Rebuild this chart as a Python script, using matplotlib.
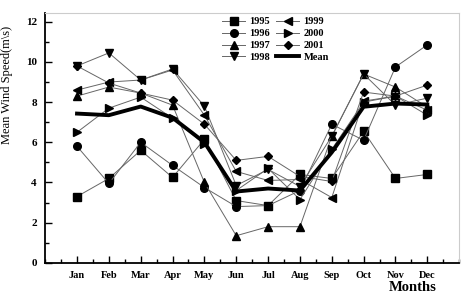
import matplotlib
matplotlib.use('Agg')
import matplotlib.pyplot as plt
from matplotlib.ticker import MultipleLocator

months = ['Jan', 'Feb', 'Mar', 'Apr', 'May', 'Jun',
          'Jul', 'Aug', 'Sep', 'Oct', 'Nov', 'Dec']

y1995 = [3.3, 4.2, 5.6, 4.25, 6.15, 3.1, 2.85, 4.4, 4.2, 6.55, 4.2, 4.4]
y1996 = [5.8, 3.95, 6.0, 4.85, 3.75, 2.8, 2.85, 3.6, 6.9, 6.1, 9.75, 10.85]
y1997 = [8.3, 8.75, 8.45, 7.85, 4.0, 1.35, 1.8, 1.8, 6.3, 9.4, 8.75, 7.75]
y1998 = [9.8, 10.45, 9.1, 9.65, 7.8, 3.85, 4.65, 3.8, 6.3, 9.4, 7.85, 8.2]
y1999 = [8.6, 9.0, 9.1, 9.6, 7.35, 4.55, 4.1, 4.15, 3.25, 8.05, 8.3, 7.6]
y2000 = [6.5, 7.7, 8.25, 7.2, 5.9, 3.6, 4.7, 3.15, 5.65, 8.0, 8.3, 7.35]
y2001 = [9.8, 8.95, 8.45, 8.1, 6.9, 5.1, 5.3, 4.3, 4.05, 8.5, 8.3, 8.85]
mean = [7.43, 7.35, 7.78, 7.22, 6.0, 3.55, 3.7, 3.6, 5.5, 7.77, 7.93, 7.88]

plt.rcParams['font.family'] = 'Liberation Serif'

fig = plt.figure(figsize=(4.61, 2.96), dpi=100)
ax = fig.add_axes([0.098, 0.112, 0.898, 0.845])

x = list(range(1, 13))
series = [('1995', y1995, 's'), ('1996', y1996, 'o'), ('1997', y1997, '^'),
          ('1998', y1998, 'v'), ('1999', y1999, '<'), ('2000', y2000, '>'),
          ('2001', y2001, 'D')]
for name, vals, mk in series:
    ms = 4.5 if mk == 'D' else 5.5
    ax.plot(x, vals, color='#666666', lw=0.7, marker=mk, ms=ms,
            mfc='black', mec='black', label=name)
ax.plot(x, mean, color='black', lw=2.8, label='Mean')

ax.set_xlim(0, 13)
ax.set_ylim(0, 12.45)
ax.set_xticks(x)
ax.set_xticklabels(months, fontweight='bold', fontsize=7.5)
ax.xaxis.set_minor_locator(MultipleLocator(0.5))
ax.yaxis.set_major_locator(MultipleLocator(2))
ax.yaxis.set_minor_locator(MultipleLocator(1))
for lab in ax.get_yticklabels():
    lab.set_fontweight('bold')
    lab.set_fontsize(8)
ax.tick_params(which='major', direction='in', length=5, width=1, pad=6)
ax.tick_params(which='minor', direction='in', length=3, width=1)

for s in ['left', 'bottom']:
    ax.spines[s].set_linewidth(1.3)
for s in ['top', 'right']:
    ax.spines[s].set_color('#cccccc')
    ax.spines[s].set_linewidth(0.8)

ax.set_ylabel('Mean Wind Speed(m\\s)', fontsize=9)
ax.yaxis.set_label_coords(-0.078, 0.71)
fig.text(0.895, 0.03, 'Months', fontsize=10.5, fontweight='bold',
         ha='center', va='center')

ax.legend(ncol=2, frameon=False, loc='upper left',
          bbox_to_anchor=(0.405, 1.02),
          prop={'weight': 'bold', 'size': 7.5}, handlelength=2.2,
          handletextpad=0.4, columnspacing=0.6, labelspacing=0.25)

fig.savefig('out.png', dpi=100)
